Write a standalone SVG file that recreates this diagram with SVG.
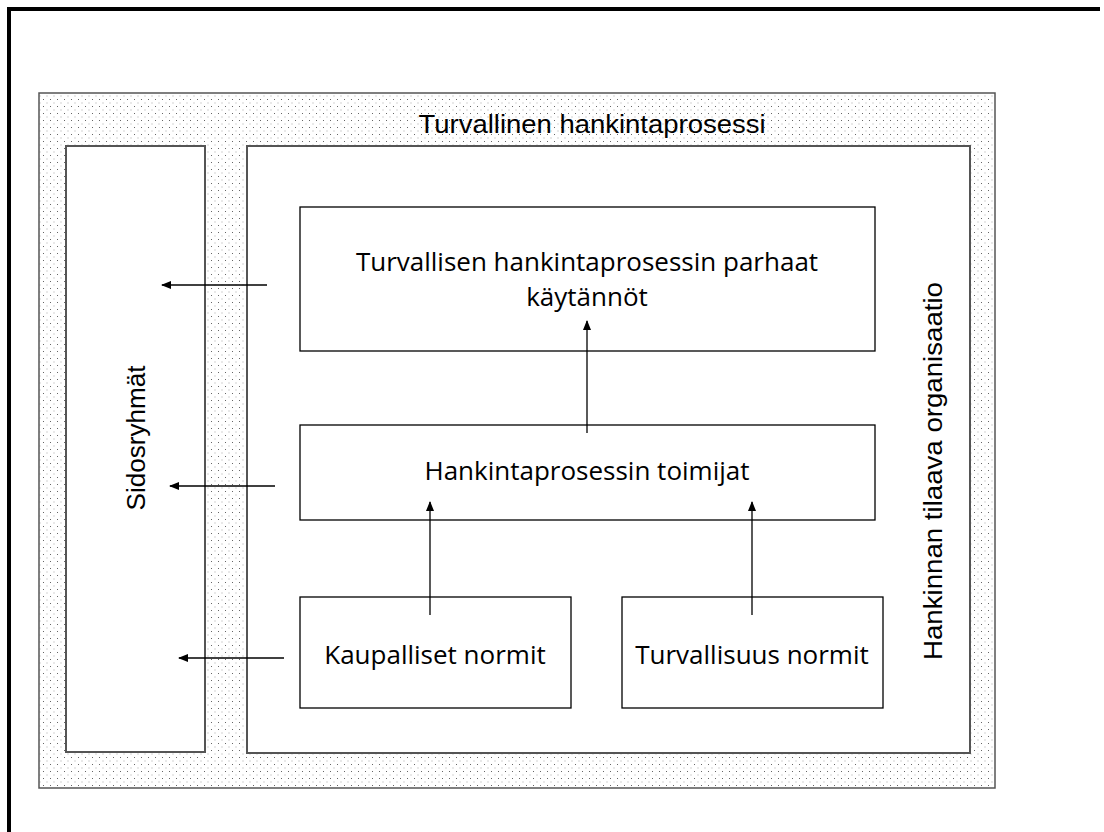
<svg xmlns="http://www.w3.org/2000/svg" width="1104" height="832" viewBox="0 0 1104 832">
<defs>
<pattern id="dots" x="0" y="0" width="7" height="7" patternUnits="userSpaceOnUse">
<rect width="7" height="7" fill="#ffffff"/>
<rect x="1" y="1" width="1" height="1" fill="#666"/>
<rect x="4.5" y="4.5" width="1" height="1" fill="#aaa"/>
</pattern>
<marker id="ah" markerWidth="10" markerHeight="8" refX="9" refY="4" orient="auto" markerUnits="userSpaceOnUse">
<path d="M0,0 L10,4 L0,8 Z" fill="#000"/>
</marker>
<style>
.box{fill:#fff;stroke:#000;stroke-width:1.3}
.grey{fill:#fff;stroke:#555;stroke-width:2}
.t{font-family:"Open Sans","DejaVu Sans",sans-serif;font-size:26px;fill:#000;text-anchor:middle}
.a{font-family:"Liberation Sans",Arial,sans-serif;font-size:26px;fill:#000;text-anchor:middle}
.c{stroke:#000;stroke-width:1.3;fill:none;marker-end:url(#ah)}
</style>
</defs>
<rect width="1104" height="832" fill="#fff"/>
<path d="M9,832 V9 H1100" fill="none" stroke="#000" stroke-width="4"/>
<g id="process">
<rect x="39" y="93" width="956" height="695" fill="url(#dots)" stroke="#555" stroke-width="1.5"/>
<text class="a" x="592" y="133" textLength="347" lengthAdjust="spacingAndGlyphs">Turvallinen hankintaprosessi</text>
</g>
<g id="sidosryhmat">
<rect class="grey" x="66" y="146" width="139" height="606"/>
<text class="a" transform="translate(145,438) rotate(-90)" textLength="145" lengthAdjust="spacingAndGlyphs">Sidosryhmät</text>
</g>
<g id="organisaatio">
<rect class="grey" x="247" y="146" width="723" height="607"/>
<text class="a" transform="translate(942,471) rotate(-90)" textLength="378" lengthAdjust="spacingAndGlyphs">Hankinnan tilaava organisaatio</text>
</g>
<g id="parhaat">
<rect class="box" x="300" y="207" width="575" height="144"/>
<text class="t" x="587" y="271">Turvallisen hankintaprosessin parhaat</text>
<text class="t" x="587" y="306">käytännöt</text>
</g>
<g id="toimijat">
<rect class="box" x="300" y="425" width="575" height="95"/>
<text class="t" x="587" y="480">Hankintaprosessin toimijat</text>
</g>
<g id="kaupalliset">
<rect class="box" x="300" y="597" width="271" height="111"/>
<text class="t" x="435" y="664">Kaupalliset normit</text>
</g>
<g id="turvallisuus">
<rect class="box" x="622" y="597" width="261" height="111"/>
<text class="t" x="752" y="664">Turvallisuus normit</text>
</g>
<g id="connectors">
<line class="c" x1="267" y1="285" x2="162" y2="285"/>
<line class="c" x1="275" y1="486" x2="170" y2="486"/>
<line class="c" x1="284" y1="658" x2="179" y2="658"/>
<line class="c" x1="587" y1="433" x2="587" y2="321"/>
<line class="c" x1="430" y1="615" x2="430" y2="502"/>
<line class="c" x1="752" y1="615" x2="752" y2="502"/>
</g>
</svg>
